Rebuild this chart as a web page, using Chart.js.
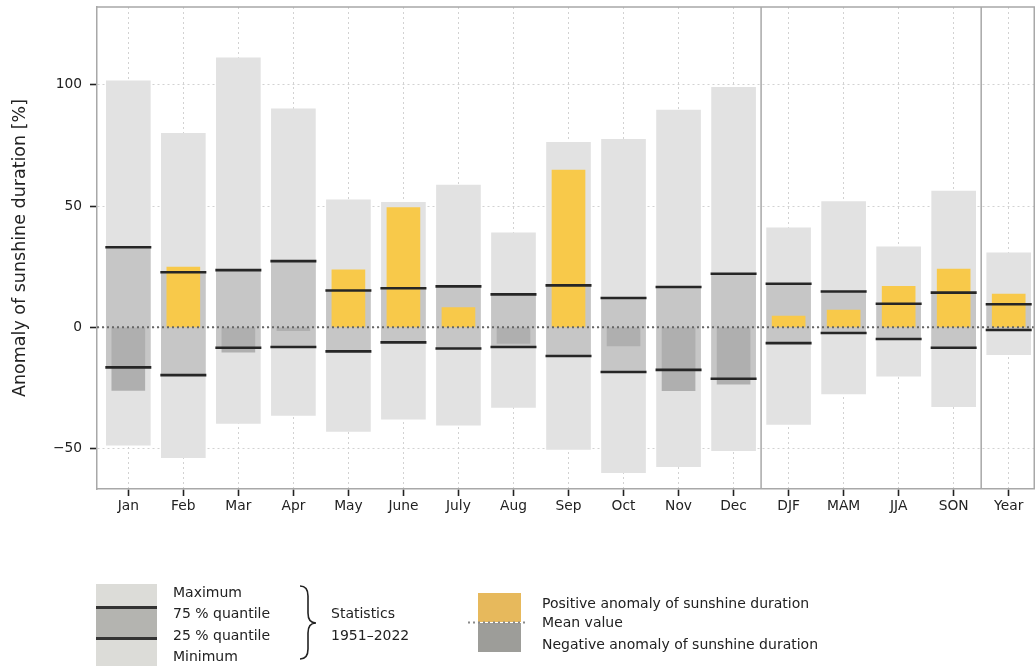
<!DOCTYPE html>
<html>
<head>
<meta charset="utf-8">
<script src="https://cdn.jsdelivr.net/npm/chart.js@4/dist/chart.umd.min.js"></script>
<style>
  html, body { margin: 0; padding: 0; background: #fff; }
  #wrap { position: relative; width: 1035px; height: 666px; overflow: hidden; font-family: 'DejaVu Sans', sans-serif; color: #222; }
  canvas { position: absolute; left: 0; top: 0; }
  .lt { position: absolute; font-size: 14px; line-height: 16px; white-space: nowrap; }
</style>
</head>
<body>
<div id="wrap">
  <canvas id="c" width="1035" height="666"></canvas>

  <!-- statistics legend -->
  <div style="position:absolute;left:96px;top:584px;width:61px;height:82px;background:#dcdcd8;"></div>
  <div style="position:absolute;left:96px;top:607px;width:61px;height:32px;background:#b4b4b0;"></div>
  <div style="position:absolute;left:96px;top:606px;width:61px;height:3px;background:#333;"></div>
  <div style="position:absolute;left:96px;top:637px;width:61px;height:3px;background:#333;"></div>
  <div class="lt" style="left:173px;top:584px;">Maximum</div>
  <div class="lt" style="left:173px;top:605px;">75 % quantile</div>
  <div class="lt" style="left:173px;top:627px;">25 % quantile</div>
  <div class="lt" style="left:173px;top:648px;">Minimum</div>
  <svg style="position:absolute;left:0;top:0;" width="1035" height="666">
    <path d="M300,586 Q308,586 308,596 L308,613 Q308,623 316,623 Q308,623 308,633 L308,649 Q308,659 300,659" stroke="#222" stroke-width="1.6" fill="none"/>
  </svg>
  <div class="lt" style="left:331px;top:605px;">Statistics</div>
  <div class="lt" style="left:331px;top:627px;">1951–2022</div>

  <!-- anomaly legend -->
  <div style="position:absolute;left:478px;top:593px;width:43px;height:29px;background:#e7b95c;"></div>
  <div style="position:absolute;left:478px;top:623px;width:43px;height:29px;background:#9d9d99;"></div>
  <svg style="position:absolute;left:0;top:0;" width="1035" height="666">
    <line x1="468" y1="622.5" x2="528" y2="622.5" stroke="#8a8a8a" stroke-width="2" stroke-dasharray="2,3"/>
  </svg>
  <div class="lt" style="left:542px;top:595px;">Positive anomaly of sunshine duration</div>
  <div class="lt" style="left:542px;top:614px;">Mean value</div>
  <div class="lt" style="left:542px;top:636px;">Negative anomaly of sunshine duration</div>
</div>
<script>
// ---------------- data ----------------
const categories = ['Jan','Feb','Mar','Apr','May','June','July','Aug','Sep','Oct','Nov','Dec','DJF','MAM','JJA','SON','Year'];
const groupSizes = [12, 4, 1]; // months | seasons | year
const maxVals = [101.6, 79.9, 111.1, 90.0, 52.5, 51.5, 58.6, 39.0, 76.2, 77.5, 89.5, 98.9, 41.0, 51.8, 33.2, 56.2, 30.7];
const minVals = [-48.5, -53.7, -39.6, -36.3, -42.9, -37.8, -40.3, -33.0, -50.3, -59.9, -57.4, -50.8, -40.0, -27.4, -20.1, -32.7, -11.3];
const q75Vals = [33.0, 22.7, 23.6, 27.3, 15.2, 16.1, 16.9, 13.6, 17.3, 12.1, 16.6, 22.1, 18.0, 14.8, 9.7, 14.3, 9.5];
const q25Vals = [-16.5, -19.7, -8.4, -8.1, -9.9, -6.2, -8.7, -8.1, -11.8, -18.4, -17.5, -21.2, -6.5, -2.3, -4.8, -8.4, -1.1];
const anomalyVals = [-26.0, 24.8, -10.2, -1.4, 23.7, 49.4, 8.1, -6.6, 64.8, -7.6, -26.1, -23.4, 4.7, 7.1, 16.9, 24.0, 13.7];
const meanValue = 0;
const yTicks = [-50, 0, 50, 100];

// ---------------- chart ----------------
Chart.defaults.font.family = "'DejaVu Sans', sans-serif";
Chart.defaults.font.size = 14;
Chart.defaults.color = '#222';

const rangeData = categories.map((c, i) => ({ x: i, y: [minVals[i], maxVals[i]] }));
const boxData = categories.map((c, i) => ({ x: i, y: [q25Vals[i], q75Vals[i]] }));
const anomData = categories.map((c, i) => ({ x: i, y: [meanValue, anomalyVals[i]] }));
const q75Data = categories.map((c, i) => ({ x: i, y: q75Vals[i] }));
const q25Data = categories.map((c, i) => ({ x: i, y: q25Vals[i] }));

function zeroPad(s) { s.paddingLeft = 0; s.paddingRight = 0; s.paddingTop = 0; s.paddingBottom = 0; }

const framePlugin = {
  id: 'frame',
  afterDatasetsDraw(chart) {
    const { ctx, chartArea: a, scales } = chart;
    // mean value line
    const y0 = scales.y.getPixelForValue(meanValue);
    ctx.save();
    ctx.strokeStyle = '#666';
    ctx.lineWidth = 2;
    ctx.setLineDash([2, 3]);
    ctx.beginPath();
    ctx.moveTo(a.left, y0);
    ctx.lineTo(a.right, y0);
    ctx.stroke();
    ctx.restore();
    // frame + group separators
    ctx.save();
    ctx.strokeStyle = '#a8a8a8';
    ctx.lineWidth = 1.5;
    ctx.beginPath();
    ctx.moveTo(a.left, a.top);
    ctx.lineTo(a.right, a.top);
    ctx.moveTo(a.right - 0.75, a.top);
    ctx.lineTo(a.right - 0.75, a.bottom);
    let acc = 0;
    for (let g = 0; g < groupSizes.length - 1; g++) {
      acc += groupSizes[g];
      const xp = scales.x.getPixelForValue(acc - 0.5);
      ctx.moveTo(xp, a.top);
      ctx.lineTo(xp, a.bottom);
    }
    ctx.stroke();
    ctx.restore();
  }
};

new Chart(document.getElementById('c'), {
  data: {
    datasets: [
      {
        type: 'scatter', label: '75 % quantile', data: q75Data, order: 1,
        pointStyle: 'line', radius: 23, hoverRadius: 23, borderColor: '#262626', borderWidth: 2.6
      },
      {
        type: 'scatter', label: '25 % quantile', data: q25Data, order: 1,
        pointStyle: 'line', radius: 23, hoverRadius: 23, borderColor: '#262626', borderWidth: 2.6
      },
      {
        type: 'bar', label: 'Anomaly', data: anomData, order: 2, grouped: false,
        barThickness: 33, borderWidth: 0,
        backgroundColor: anomalyVals.map(v => v >= 0 ? '#f8c94a' : '#afafaf')
      },
      {
        type: 'bar', label: 'Quantile range', data: boxData, order: 3, grouped: false,
        barThickness: 44, borderWidth: 0, backgroundColor: '#c6c6c6'
      },
      {
        type: 'bar', label: 'Range', data: rangeData, order: 4, grouped: false,
        barThickness: 44, borderWidth: 0, backgroundColor: '#e2e2e2'
      }
    ]
  },
  options: {
    responsive: false,
    animation: false,
    devicePixelRatio: 1,
    layout: { autoPadding: false, padding: { top: 7, right: 0, left: 0, bottom: 0 } },
    plugins: { legend: { display: false }, tooltip: { enabled: false } },
    scales: {
      x: {
        type: 'linear',
        position: 'bottom',
        offset: false,
        min: -0.569,
        max: 16.478,
        afterBuildTicks: s => { s.ticks = categories.map((c, i) => ({ value: i })); },
        afterFit: s => { s.height = 177; zeroPad(s); },
        ticks: {
          autoSkip: false, maxRotation: 0, minRotation: 0, padding: 2,
          font: { size: 13.8 }, color: '#222',
          callback: v => categories[v]
        },
        grid: {
          offset: false,
          color: '#d2d2d2', lineWidth: 1, drawTicks: true,
          tickLength: 7, tickColor: '#222', tickWidth: 1.6, tickBorderDash: []
        },
        border: { display: true, color: '#a8a8a8', width: 1.5, dash: [2, 3] }
      },
      y: {
        type: 'linear',
        min: -66.6,
        max: 132,
        afterBuildTicks: s => { s.ticks = yTicks.map(v => ({ value: v })); },
        afterFit: s => { s.width = 97; zeroPad(s); },
        ticks: {
          padding: 8, font: { size: 13.8 }, color: '#222',
          callback: v => String(v).replace('-', '\u2212')
        },
        title: {
          display: true, text: 'Anomaly of sunshine duration [%]',
          font: { size: 17.5 }, color: '#222', padding: { top: 10, bottom: 0 }
        },
        grid: {
          color: '#d2d2d2', lineWidth: 1, drawTicks: true,
          tickLength: 7, tickColor: '#222', tickWidth: 1.6, tickBorderDash: []
        },
        border: { display: true, color: '#a8a8a8', width: 1.5, dash: [2, 3] }
      }
    }
  },
  plugins: [framePlugin]
});
</script>
</body>
</html>
